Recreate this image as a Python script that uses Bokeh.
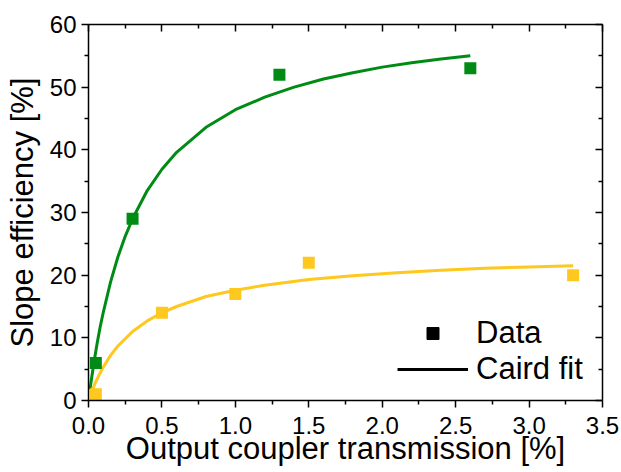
from bokeh.plotting import figure
from bokeh.models import (Range1d, LinearAxis, FixedTicker, Legend, LegendItem,
                          ColumnDataSource, CDSView, IndexFilter)
from bokeh.embed import file_html
from bokeh.resources import INLINE

# ---------------- data ----------------
green_T = [0.05, 0.3, 1.3, 2.6]
green_eff = [6, 29, 52, 53]

yellow_T = [0.05, 0.5, 1.0, 1.5, 3.3]
yellow_eff = [1, 14, 17, 22, 20]

green_fit_T = [0.01, 0.02, 0.04, 0.06, 0.08, 0.1, 0.15, 0.2, 0.25, 0.3, 0.4, 0.5,
               0.6, 0.8, 1.0, 1.2, 1.4, 1.6, 1.8, 2.0, 2.2, 2.4, 2.6]
green_fit_eff = [1.8, 3.4, 6.5, 9.3, 11.8, 14.0, 18.9, 22.9, 26.2, 29.0, 33.5, 36.9,
                 39.6, 43.6, 46.4, 48.4, 50.0, 51.3, 52.3, 53.2, 53.9, 54.5, 55.0]

yellow_fit_T = [0.02, 0.03, 0.05, 0.075, 0.1, 0.15, 0.2, 0.3, 0.4, 0.5, 0.6, 0.8,
                1.0, 1.2, 1.5, 1.8, 2.1, 2.4, 2.7, 3.0, 3.3]
yellow_fit_eff = [1.3, 1.9, 3.0, 4.2, 5.3, 7.2, 8.7, 11.0, 12.7, 14.0, 15.0, 16.6,
                  17.6, 18.4, 19.3, 19.9, 20.4, 20.8, 21.1, 21.3, 21.5]

x_ticks = [0.0, 0.5, 1.0, 1.5, 2.0, 2.5, 3.0, 3.5]
x_tick_labels = ["0.0", "0.5", "1.0", "1.5", "2.0", "2.5", "3.0", "3.5"]
x_minor = [0.25, 0.75, 1.25, 1.75, 2.25, 2.75, 3.25]
y_ticks = [0, 10, 20, 30, 40, 50, 60]
y_tick_labels = ["0", "10", "20", "30", "40", "50", "60"]
y_minor = [5, 15, 25, 35, 45, 55]

x_label = "Output coupler transmission [%]"
y_label = "Slope efficiency [%]"
legend_labels = ["Data", "Caird fit"]

GREEN = "#008C14"
YELLOW = "#FFC81E"
FONT = "Liberation Sans"

# ---------------- figure ----------------
p = figure(width=621, height=472, output_backend="svg", toolbar_location=None,
           x_range=Range1d(0, 3.5), y_range=Range1d(0, 60),
           x_axis_label=x_label, y_axis_label=y_label)
p.min_border_left = 88
p.min_border_right = 19
p.min_border_top = 24
p.min_border_bottom = 72
p.outline_line_color = None
p.xgrid.visible = False
p.ygrid.visible = False
p.background_fill_color = "white"
p.border_fill_color = "white"

xt = FixedTicker(ticks=x_ticks, minor_ticks=x_minor)
yt = FixedTicker(ticks=y_ticks, minor_ticks=y_minor)


def style_axis(ax, ticker, labels, ticks, inward=False, show_labels=True):
    ax.ticker = ticker
    ax.axis_line_color = "black"
    ax.axis_line_width = 1.5
    ax.major_tick_line_color = "black"
    ax.major_tick_line_width = 1.5
    ax.minor_tick_line_color = "black"
    ax.minor_tick_line_width = 1.5
    if inward:
        ax.major_tick_in = 7
        ax.major_tick_out = 0
        ax.minor_tick_in = 4
        ax.minor_tick_out = 0
    else:
        ax.major_tick_in = 0
        ax.major_tick_out = 7
        ax.minor_tick_in = 0
        ax.minor_tick_out = 4
    ax.major_label_text_font = FONT
    if show_labels:
        ax.major_label_overrides = {t: l for t, l in zip(ticks, labels)}
        ax.major_label_text_color = "black"
        ax.major_label_text_font_size = "24px"
    else:
        ax.major_label_text_color = None
        ax.major_label_text_font_size = "1px"
        ax.major_label_standoff = 0
    ax.axis_label_text_font = FONT
    ax.axis_label_text_font_size = "31px"
    ax.axis_label_text_font_style = "normal"
    ax.axis_label_text_color = "black"


style_axis(p.xaxis[0], xt, x_tick_labels, x_ticks)
style_axis(p.yaxis[0], yt, y_tick_labels, y_ticks)
p.xaxis[0].major_label_standoff = 9
p.xaxis[0].axis_label_standoff = -6
p.yaxis[0].major_label_standoff = 5
p.yaxis[0].axis_label_standoff = 7

top_ax = LinearAxis()
style_axis(top_ax, xt, x_tick_labels, x_ticks, inward=True, show_labels=False)
p.add_layout(top_ax, "above")
right_ax = LinearAxis()
style_axis(right_ax, yt, y_tick_labels, y_ticks, inward=True, show_labels=False)
p.add_layout(right_ax, "right")

# ---------------- glyphs ----------------
# legend proxies (black); only one point kept, hidden beneath the green data square
proxy_src = ColumnDataSource(data=dict(x=green_T, y=green_eff))
r_ln = p.line("x", "y", source=proxy_src, view=CDSView(filter=IndexFilter(indices=[0])),
              line_color="black", line_width=3)
r_sq = p.scatter("x", "y", source=proxy_src, view=CDSView(filter=IndexFilter(indices=[0])),
                 marker="square", size=2, fill_color="black", line_color="black")

p.line(green_fit_T, green_fit_eff, line_color=GREEN, line_width=3)
p.line(yellow_fit_T, yellow_fit_eff, line_color=YELLOW, line_width=3)
p.scatter(green_T, green_eff, marker="square", size=12, fill_color=GREEN,
          line_color=GREEN, line_width=0)
p.scatter(yellow_T, yellow_eff, marker="square", size=12, fill_color=YELLOW,
          line_color=YELLOW, line_width=0)

legend = Legend(items=[LegendItem(label=legend_labels[0], renderers=[r_sq]),
                       LegendItem(label=legend_labels[1], renderers=[r_ln])],
                location=(309, 13), orientation="vertical",
                border_line_color=None, background_fill_alpha=0,
                padding=0, margin=0, spacing=0,
                glyph_width=71, glyph_height=30, label_standoff=8,
                label_text_font=FONT, label_text_font_size="31px",
                label_text_color="black", label_height=30)
p.add_layout(legend)

open("out.html", "w").write(file_html(p, INLINE))
